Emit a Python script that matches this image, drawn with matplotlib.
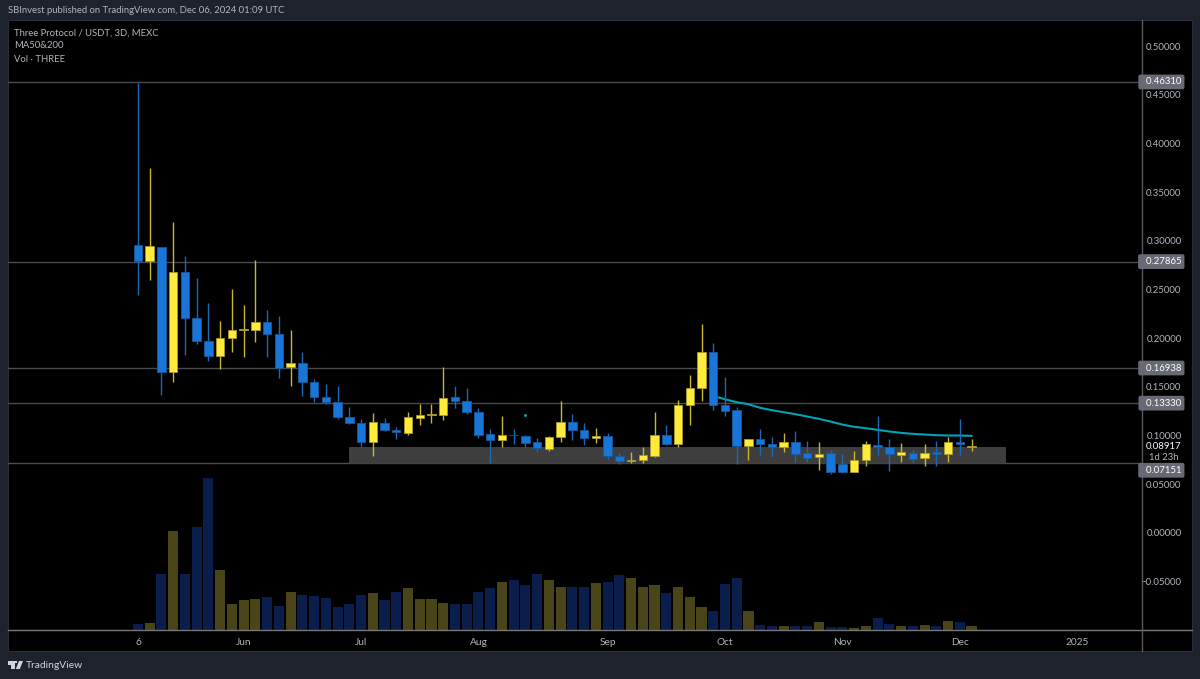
import matplotlib
matplotlib.use("Agg")
import matplotlib.pyplot as plt
from matplotlib.patches import Rectangle, Polygon

# --- data ---
opens = [.2952,.2794,.2941,.1649,.2678,.2206,.1974,.1820,.1997,.2083,.2086,.2162,.2045,.1707,.1741,.1553,.1392,.1344,.1190,
         .1127,.0936,.1127,.1059,.1031,.1185,.1209,.1209,.1394,.1360,.1247,.1014,.0953,.1008,.0997,.0932,.0864,.0984,.1141,.1059,.0973,
         .0997,.0795,.0741,.0748,.0792,.1004,.0912,.1315,.1486,.1859,.1315,.1264,.0895,.0963,.0915,.0884,.0932,.0819,.0782,.0819,
         .0710,.0628,.0751,.0908,.0881,.0802,.0826,.0765,.0830,.0813,.0932,.0878]
closes = [.2794,.2948,.1649,.2678,.2206,.1974,.1820,.2001,.2086,.2093,.2162,.2045,.1697,.1741,.1553,.1392,.1341,.1190,.1125,
          .0939,.1137,.1059,.1035,.1189,.1213,.1220,.1384,.1356,.1243,.1008,.0953,.1004,.1001,.0929,.0871,.0987,.1141,.1059,.0977,.0997,
          .0792,.0741,.0754,.0802,.1004,.0912,.1319,.1486,.1862,.1315,.1257,.0895,.0963,.0912,.0884,.0932,.0813,.0775,.0813,.0628,
          .0628,.0754,.0915,.0884,.0813,.0830,.0758,.0826,.0816,.0932,.0912,.0895]
highs = [.4617,.3745,.2941,.3191,.2839,.2617,.2360,.2175,.2504,.2340,.2801,.2292,.2227,.2086,.1861,.1580,.1532,.1505,.1293,
         .1168,.1233,.1179,.1090,.1240,.1329,.1322,.1709,.1507,.1490,.1281,.1069,.1199,.1069,.1004,.0973,.0997,.1353,.1223,.1127,.1079,
         .1025,.0819,.0830,.0884,.1240,.1110,.1363,.1620,.2146,.1951,.1603,.1291,.0963,.1069,.0984,.1028,.1045,.0943,.0936,.0854,
         .0813,.0843,.0949,.1206,.0963,.0922,.0854,.0915,.0949,.0990,.1175,.0966]
lows = [.2445,.2599,.1413,.1546,.1823,.1939,.1762,.1683,.1857,.1809,.1956,.1809,.1590,.1512,.1406,.1341,.1327,.1166,.1115,
        .0884,.0795,.1052,.0966,.1007,.1110,.1134,.1161,.1281,.1226,.0980,.0717,.0884,.0915,.0881,.0836,.0843,.0936,.0956,.0905,.0925,
        .0758,.0713,.0717,.0720,.0782,.0905,.0884,.1110,.1356,.1264,.1202,.0713,.0754,.0799,.0782,.0836,.0724,.0724,.0648,.0601,
        .0611,.0628,.0683,.0802,.0638,.0724,.0717,.0683,.0686,.0731,.0802,.0843]
volumes = [6,7,55.7,99,56.3,102.7,151.7,59.7,25.7,29.7,31.3,33,24.3,37.7,35.3,33.7,32.3,23.3,26,35.3,37,29.7,38.3,41.7,30.7,31.3,27.3,
           26,26,38.3,42,47.7,50.3,44.7,56,50.3,43,43,43,47,48.3,55,51.7,43,45.3,37.3,43,32.7,23.3,19.3,46,52.3,19.3,
           5.3,3.7,3.7,4.3,3.7,7.7,3,3,2.3,3.7,11.7,6.3,4.3,4.3,5.3,3.7,9,8.3,4.3]
ma_index = list(range(49, 72))
ma_values = [.1408,.1373,.1343,.1322,.1285,.1261,.1240,.1220,.1196,.1172,.1144,.1113,.1090,.1076,.1059,.1042,.1028,.1018,.1011,.1004,.1001,.1001,.0997]
levels = [.46310,.27865,.16938,.13330,.07151]
level_labels = ["0.46310","0.27865","0.16938","0.13330","0.07151"]
zone = (.07151,.0884)
zone_x = (18,73.85)
price_ticks = [.50,.45,.40,.35,.30,.25,.20,.15,.10,.05,0,-.05]
x_ticks = [0,9,19,29,40,50,60,70,80]
x_labels = ["6","Jun","Jul","Aug","Sep","Oct","Nov","Dec","2025"]
last_price = .08917

BLUE, YEL = "#1976d8", "#ffeb3b"
W_BLUE, W_YEL = "#1a68b8", "#c9b62e"
E_BLUE, E_YEL = "#15599f", "#a89a2c"
V_BLUE, V_YEL = "#0b1d4a", "#4a4518"
BG = "#1e222d"
TXT = "#b2b5be"
FS = 6.9
plt.rcParams["font.family"] = ["Lato", "DejaVu Sans"]

W, H = 1200, 679
fig = plt.figure(figsize=(12, 6.79), dpi=100, facecolor=BG)
L, R, T, B = 8, 1142, 20, 630
ax = fig.add_axes([L/W, 1-B/H, (R-L)/W, (B-T)/H], facecolor="black")
ax.set_xlim(-11.07, 85.52)
ax.set_ylim(-0.0996, 0.5267)

# outer black panel (price scale + time scale)
fig.add_artist(Rectangle((L/W, 1-651/H), (1192-L)/W, (651-T)/H, transform=fig.transFigure, fc="black", ec="#2a2e39", lw=0.8, zorder=-5))

vax = ax.twinx()
vax.set_ylim(0, 610)
vax.axis("off")
ax.set_zorder(vax.get_zorder()+1)
ax.patch.set_visible(False)

for i, v in enumerate(volumes):
    vax.bar(i, v, width=0.86, color=V_YEL if closes[i] >= opens[i] else V_BLUE, linewidth=0)

for lv in levels:
    ax.axhline(lv, color="#4a4a50", lw=1.0, zorder=1)
ax.add_patch(Rectangle((zone_x[0], zone[0]), zone_x[1]-zone_x[0], zone[1]-zone[0], fc="#3e3e3e", ec="#444444", lw=0.6, zorder=1.5))

ax.plot(ma_index, ma_values, color="#00a4b4", lw=1.5, zorder=2)
ax.plot([33], [.1208], ls="none", marker="s", ms=1.0, color="#00a4b4", zorder=2)

for i, (o, h, l, c) in enumerate(zip(opens, highs, lows, closes)):
    up = c >= o
    ax.vlines(i, l, h, color=W_YEL if up else W_BLUE, lw=1.0, zorder=3)
    bot, top = min(o, c), max(o, c)
    ax.add_patch(Rectangle((i-0.36, bot), 0.72, max(top-bot, .0008), fc=YEL if up else BLUE,
                           ec=E_YEL if up else E_BLUE, lw=0.6, zorder=4))

# axes styling
for s in ["top", "left"]:
    ax.spines[s].set_visible(False)
ax.spines["right"].set_color("#5a5a5e")
ax.spines["bottom"].set_color("#77777a")
ax.spines["right"].set_linewidth(1.0)
ax.spines["bottom"].set_linewidth(1.0)
ax.yaxis.tick_right()
ax.set_yticks(price_ticks)
ax.set_yticklabels([f"{t:.5f}".replace("-", "\u2212") for t in price_ticks], ha="right")
ax.tick_params(axis="y", length=0, pad=28.5, labelsize=FS, labelcolor=TXT)
ax.set_xticks(x_ticks)
ax.set_xticklabels(x_labels)
ax.tick_params(axis="x", length=0, pad=6, labelsize=7.3, labelcolor=TXT)

# extend time axis line under price scale; vertical separator to bottom
fig.add_artist(plt.Line2D([R/W, 1192/W], [1-B/H, 1-B/H], color="#77777a", lw=1.0))
fig.add_artist(plt.Line2D([R/W, R/W], [1-651/H, 1-B/H], color="#5a5a5e", lw=1.0))

# price labels (the lowest box sits below its line, as on the reference)
ytf = ax.get_yaxis_transform()
label_dy = [0, 0, 0, 0, -5]
for lv, lb, dy in zip(levels, level_labels, label_dy):
    ax.annotate("  " + lb, xy=(1, lv), xycoords=ytf, xytext=(28.5, dy), textcoords="offset points",
                ha="right", va="center", fontsize=FS, color="white", zorder=10, annotation_clip=False,
                bbox=dict(boxstyle="round,pad=0.3,rounding_size=0.2", fc="#676a75", ec="none"))
ax.annotate("0.08917", xy=(1, last_price), xycoords=ytf, xytext=(28.5, 0), textcoords="offset points",
            ha="right", va="center", fontsize=FS, color="white", annotation_clip=False)
ax.annotate("1d 23h", xy=(1, last_price), xycoords=ytf, xytext=(26.5, -8), textcoords="offset points",
            ha="right", va="center", fontsize=FS, color=TXT, annotation_clip=False)

# header text
fig.text(8/W, 1-10.5/H, "SBInvest published on TradingView.com, Dec 06, 2024 01:09 UTC", color=TXT, fontsize=6.85, va="center", ha="left")
for y, s in [(33, "Three Protocol / USDT, 3D, MEXC"), (46, "MA50&200"), (59.5, "Vol \u00b7 THREE")]:
    fig.text(14/W, 1-y/H, s, color=TXT, fontsize=6.85, va="center", ha="left")

# footer logo and text
fig.text(26/W, 1-665.5/H, "TradingView", color="#d1d4dc", fontsize=7.4, va="center", ha="left")
def px(x, y):
    return (x/W, 1-y/H)
fig.add_artist(Polygon([px(8, 661), px(14.5, 661), px(14.5, 669), px(11, 669), px(11, 664.5), px(8, 664.5)], closed=True, fc="#d1d4dc", ec="none", transform=fig.transFigure))
fig.add_artist(Polygon([px(19, 661), px(23, 661), px(19.8, 669), px(15.8, 669)], closed=True, fc="#d1d4dc", ec="none", transform=fig.transFigure))
fig.add_artist(Polygon([px(15.3, 661), px(17.4, 661), px(17.4, 663.3), px(15.3, 663.3)], closed=True, fc="#d1d4dc", ec="none", transform=fig.transFigure))

fig.savefig("out.png", dpi=100, facecolor=BG)
